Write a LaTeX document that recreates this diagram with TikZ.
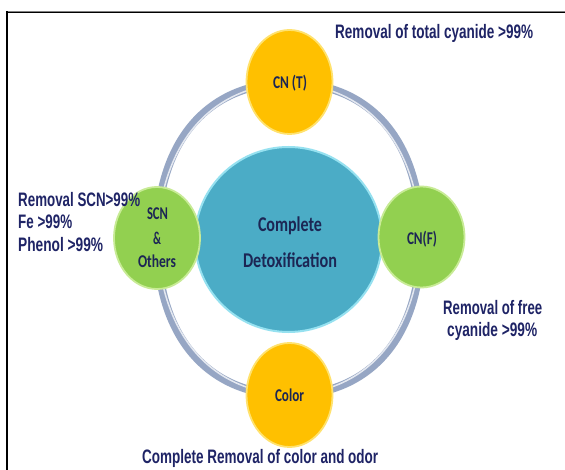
\documentclass[tikz,border=0pt]{standalone}
\usepackage{fontspec}
\usepackage{graphicx}
\usetikzlibrary{shapes.geometric}
\newfontfamily\labfont{Liberation Sans}
\newfontfamily\calfont{Carlito}
\definecolor{navy}{RGB}{31,36,102}
\definecolor{inkdark}{RGB}{28,38,84}
\definecolor{sun}{RGB}{255,192,0}
\definecolor{sunrim}{RGB}{255,226,110}
\definecolor{leaf}{RGB}{146,208,80}
\definecolor{leafrim}{RGB}{200,235,150}
\definecolor{sea}{RGB}{75,172,198}
\definecolor{searim}{RGB}{150,225,240}
\definecolor{ringblue}{RGB}{150,166,196}
% squeeze a text box to a given width, keeping its height
\newcommand\fitto[2]{\resizebox{#1pt}{\height}{#2}}
\tikzset{
  orb/.style={ellipse, inner sep=0pt, minimum width=86pt, minimum height=104pt},
  lab/.style={inner sep=0pt, text=navy, font=\labfont\bfseries\fontsize{19.5}{22}\selectfont},
  orbtext/.style={inner sep=0pt, text=inkdark, font=\calfont\bfseries\fontsize{18}{20}\selectfont},
  coretext/.style={inner sep=0pt, text=inkdark, font=\calfont\bfseries\fontsize{21}{23}\selectfont},
}
\begin{document}
\begin{tikzpicture}[x=1pt,y=-1pt]
\useasboundingbox (0,0) rectangle (565,470);
\clip (0,0) rectangle (565,470);
\fill[white] (0,0) rectangle (565,470);
% outer frame
\draw[line width=2.2pt, black] (7,12) rectangle (620,520);
\draw[line width=0.8pt, gray] (8,11.2) -- (620,11.2);

% ring behind the circles, slightly squarer than an ellipse
\coordinate (rt) at (289,83);
\coordinate (rl) at (157,239);
\coordinate (rb) at (289,395);
\coordinate (rr) at (421,239);
\def\ringpath{(rt) .. controls (207,83) and (157,142) .. (rl)
  .. controls (157,336) and (207,395) .. (rb)
  .. controls (371,395) and (421,336) .. (rr)
  .. controls (421,142) and (371,83) .. (rt) -- cycle}
\draw[line width=8pt, ringblue] \ringpath;
\begin{scope}[shift={(289,239)}, xscale=0.972, yscale=0.978, shift={(-289,-239)}]
  \draw[line width=1.5pt, white, opacity=0.75] \ringpath;
\end{scope}

% centre disc
\node[ellipse, inner sep=0pt, minimum width=187pt, minimum height=185pt, fill=sea,
      draw=searim, line width=2pt] (core) at (288.5,239.5) {};

% four satellite circles
\node[orb, fill=sun, draw=sunrim, line width=1.8pt] (ct) at (289.5,82) {};
\node[orb, fill=sun, draw=sunrim, line width=1.8pt] (cc) at (289.5,395) {};
\node[orb, minimum height=102pt, fill=leaf, draw=leafrim, line width=1.8pt] (cs) at (157,238) {};
\node[orb, minimum height=101pt, fill=leaf, draw=leafrim, line width=1.8pt] (cf) at (421.5,237) {};

% texts inside the circles
\node[orbtext, anchor=base] (tct) at (290,89) {\fitto{34}{CN (T)}};
\node[orbtext, anchor=base] (tcf) at (422,245) {\fitto{30}{CN(F)}};
\node[orbtext, anchor=base] (tcc) at (289.5,401) {\fitto{29}{Color}};
\node[orbtext, anchor=base] (tcs1) at (157.5,220) {\fitto{21}{SCN}};
\node[orbtext, anchor=base] (tcs2) at (157,245) {\fitto{8}{\&}};
\node[orbtext, anchor=base] (tcs3) at (157,268) {\fitto{38}{Others}};
\node[coretext, anchor=base] (tco1) at (290,232) {\fitto{64}{Complete}};
\node[coretext, anchor=base] (tco2) at (290,268) {\fitto{94}{Detoxification}};

% outside labels
\node[lab, anchor=base west] (l1) at (335,39) {\fitto{198}{Removal of total cyanide >99\%}};
\node[lab, anchor=base west] (l2a) at (18,207) {\fitto{122}{Removal SCN>99\%}};
\node[lab, anchor=base west] (l2b) at (18,229) {\fitto{54}{Fe >99\%}};
\node[lab, anchor=base west] (l2c) at (18,252) {\fitto{85}{Phenol >99\%}};
\node[lab, anchor=base west] (l3a) at (443,315) {\fitto{99}{Removal of free}};
\node[lab, anchor=base west] (l3b) at (447,337) {\fitto{90}{cyanide >99\%}};
\node[lab, anchor=base west] (l4) at (142,463) {\fitto{236}{Complete Removal of color and odor}};
\end{tikzpicture}
\end{document}
